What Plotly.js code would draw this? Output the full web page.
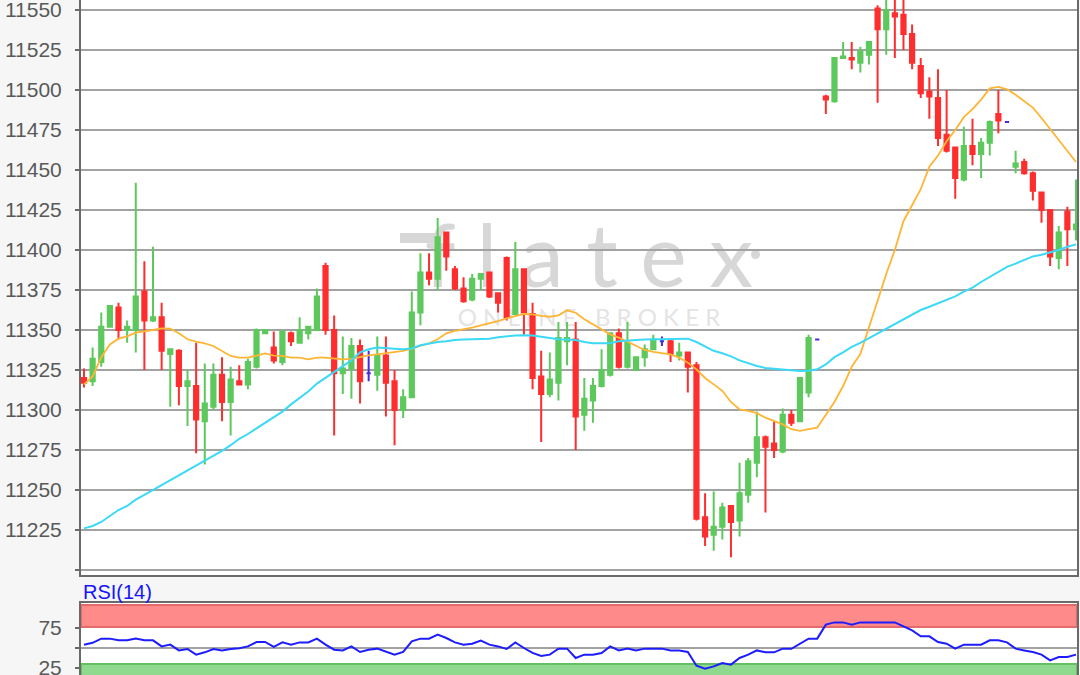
<!DOCTYPE html>
<html>
<head>
<meta charset="utf-8">
<script src="https://cdn.plot.ly/plotly-3.0.1.min.js"></script>
<style>
html,body{margin:0;padding:0;background:#f6f6f6;}
#chart{width:1080px;height:675px;}
</style>
</head>
<body>
<div id="chart"></div>
<script>
// ---------------- DATA ----------------
const openP  = [11320,11318,11330,11352,11364,11350,11350,11374,11356,11358,11335,11337,11315,11315,11293,11302,11322,11305,11318,11316,
                11327,11348,11339,11330,11348,11342,11348,11350,11390,11350,11323,11326,11340,11323,11322,11334,11318,11300,11308,11361,
                11386,11382,11411,11388,11376,11369,11382,11386,11373,11395,11360,11388,11360,11321,11310,11317,11343,11344,11297,11306,
                11315,11322,11348,11327,11325,11333,11338,11343,11343,11334,11336,11328,11233,11222,11227,11240,11231,11247,11267,11283,
                11279,11274,11297,11293,11311,11344,11496,11493,11520,11520,11517,11522,11551,11538,11548,11547,11535,11515,11499,11495,
                11472,11464,11444,11465,11460,11467,11485,11480,11452,11455,11448,11436,11425,11395,11424,11413];
const highP  = [11326,11339,11361,11365,11367,11356,11442,11393,11402,11367,11338,11338,11325,11342,11329,11329,11333,11327,11328,11332,
                11351,11350,11349,11349,11349,11358,11352,11376,11392,11359,11346,11345,11344,11337,11346,11346,11325,11313,11374,11398,
                11398,11420,11411,11390,11383,11385,11385,11386,11373,11396,11405,11388,11367,11337,11336,11355,11355,11355,11320,11320,
                11338,11348,11351,11355,11333,11341,11347,11346,11344,11342,11336,11330,11248,11249,11242,11240,11267,11270,11299,11284,
                11293,11301,11300,11320,11347,11344,11497,11520,11530,11530,11527,11530,11553,11560,11560,11560,11541,11520,11508,11513,
                11500,11464,11477,11482,11470,11481,11500,11480,11462,11457,11449,11436,11425,11415,11427,11444];
const lowP   = [11314,11315,11327,11352,11344,11342,11336,11325,11355,11325,11302,11303,11290,11273,11266,11300,11293,11284,11316,11313,
                11326,11348,11329,11328,11340,11342,11344,11350,11347,11284,11310,11307,11304,11318,11312,11296,11278,11295,11308,11353,
                11378,11375,11387,11375,11367,11368,11375,11370,11361,11356,11360,11347,11313,11280,11308,11306,11328,11275,11287,11292,
                11314,11321,11326,11326,11325,11327,11338,11340,11330,11331,11311,11231,11215,11212,11219,11208,11221,11242,11258,11236,
                11270,11273,11290,11293,11308,11344,11485,11492,11520,11513,11511,11516,11492,11522,11520,11525,11513,11495,11482,11465,
                11461,11432,11443,11453,11445,11459,11473,11480,11448,11447,11431,11417,11390,11388,11390,11406];
const closeP = [11317,11332,11352,11365,11350,11352,11371,11356,11358,11337,11338,11315,11318,11294,11304,11322,11305,11319,11316,11330,
                11350,11350,11331,11349,11343,11350,11352,11371,11350,11323,11326,11340,11318,11323,11334,11317,11300,11308,11361,11386,
                11382,11408,11396,11376,11368,11382,11385,11371,11367,11358,11388,11361,11320,11310,11319,11345,11345,11296,11307,11315,
                11325,11348,11327,11342,11333,11338,11344,11343,11335,11336,11327,11232,11221,11227,11239,11230,11248,11268,11283,11277,
                11275,11297,11292,11320,11345,11344,11494,11520,11521,11519,11524,11530,11538,11550,11546,11535,11517,11498,11496,11470,
                11462,11445,11465,11460,11467,11480,11481,11480,11454,11448,11437,11425,11396,11411,11413,11416];

// moving averages (orange = fast, cyan = slow), read per candle
const maFast = [11316,11321,11333,11341,11344.6,11346,11348.3,11349,11350,11351,11350.8,11348,11344.2,11342.7,11341.7,11340,11336.9,11333.8,11332.7,11332.7,
                11334,11335.4,11334,11333.8,11332.7,11332.7,11331.7,11332.7,11332.7,11332,11331.7,11332,11333.3,11334.2,11334.8,11335.4,11336.3,11336.9,11338.3,11340,
                11341.7,11344.2,11347.9,11349.4,11350.4,11351.5,11352.9,11354.2,11355.6,11357.3,11358.8,11360,11359.8,11358.8,11358.3,11359.2,11362.3,11360.8,11356.7,11353.5,
                11350,11347.3,11345.2,11342.5,11340,11337.5,11336.3,11335.4,11334.8,11332.7,11329.6,11325.4,11320,11316,11312,11305,11300.4,11299.4,11298,11295.2,
                11293,11291,11288,11287,11288,11289,11297,11305,11315,11327,11335,11352,11368,11385,11400,11418,11428,11438,11452,11459,
                11468,11475,11483,11488,11494,11501,11502,11500.4,11497,11493,11489,11482.5,11475.7,11469,11462,11455];
const maSlow = [11226,11227.5,11230,11233.8,11237.5,11240,11244,11247,11250,11253,11256.5,11259,11262,11265.5,11268.5,11271,11274.5,11278,11282,11285,
                11288.5,11292,11295,11299,11303.5,11307.5,11311.5,11316.5,11320,11324,11327.5,11331,11336,11338,11339,11338.5,11338.3,11338,11338.5,11340.5,
                11341.5,11342.5,11343,11343.8,11344,11344.2,11344.4,11344.6,11345.5,11346.2,11346.5,11346.7,11346.5,11345.8,11345,11344.2,11344,11343.8,11342.5,11341.7,
                11341.7,11341.7,11343,11343.5,11343.8,11344,11344.2,11344.2,11344.2,11344.4,11344.6,11342.5,11339.5,11337,11335.5,11333.5,11331,11329,11327.5,11326.3,
                11325.8,11325.5,11324.8,11324.4,11324.6,11325.4,11328.5,11333,11336,11339.5,11342,11345,11348,11351,11354,11357,11360,11362.5,11364.5,11366.5,
                11369,11371,11374,11376.5,11380,11383,11386,11389.5,11391.5,11393.5,11396,11397,11398.5,11400,11402,11403.5];

// RSI(14), read per candle
const rsi14 = [54,56.5,61.7,61.7,59.6,59.6,61.7,59.6,59.6,52,54.2,47,48.8,41.7,44.6,48.8,47,48.8,49.6,52,
               57.5,57.5,51.3,57,54.2,57,57,61.7,54.2,47.9,47,52,45,47.9,49.2,45,41.7,45,58.3,61.7,
               61.7,66.7,62.5,57,54.2,55.4,59.2,54.2,52,48.8,57,50,43.8,40,41.7,49.2,49.2,37.5,41.7,41.7,
               43.8,52,47,49.2,47,49.2,49.2,49.2,47,47,45,27.9,24.2,27,31.3,29.2,37.5,41.7,47,44.6,
               44.6,49.2,49,55.4,61.7,61.7,79.2,82,82,79.2,82,82,82,82,82,77,72,64.6,64.6,57.5,
               55.4,49.2,54.2,54.2,54.2,59.6,59.6,57,49.2,47,45,41.7,34.6,38.8,38.8,41.7];

// tick labels
const priceTickVals = [11200,11225,11250,11275,11300,11325,11350,11375,11400,11425,11450,11475,11500,11525,11550];
const priceTickText = ['','11225','11250','11275','11300','11325','11350','11375','11400','11425','11450','11475','11500','11525','11550'];
const rsiTickVals = [25,50,75];
const rsiTickText = ['25','','75'];
const rsiLabel = 'RSI(14)';
const watermarkTop = 'f l a t e x';
const watermarkSub = 'O N L I N E   B R O K E R';

// ---------------- BUILD ----------------
const idx = openP.map((_, i) => i);
function subset(test) {
  const out = {x: [], open: [], high: [], low: [], close: []};
  idx.forEach(i => {
    if (test(openP[i], closeP[i])) {
      out.x.push(i); out.open.push(openP[i]); out.high.push(highP[i]);
      out.low.push(lowP[i]); out.close.push(closeP[i]);
    }
  });
  return out;
}
const GREEN = '#5dc95d', RED = '#ff2e2e', DOJI = '#4a2ad8';
function candle(set, col) {
  return Object.assign({
    type: 'candlestick', xaxis: 'x', yaxis: 'y', whiskerwidth: 0,
    increasing: {line: {color: col, width: 2}, fillcolor: col},
    decreasing: {line: {color: col, width: 2}, fillcolor: col},
    hoverinfo: 'skip', showlegend: false
  }, set);
}
const traces = [
  candle(subset((o, c) => c > o), GREEN),
  candle(subset((o, c) => c < o), RED),
  candle(subset((o, c) => c === o), DOJI),
  {type: 'scatter', mode: 'lines', x: idx, y: maFast, xaxis: 'x', yaxis: 'y',
   line: {color: '#ffb534', width: 1.8}, hoverinfo: 'skip', showlegend: false},
  {type: 'scatter', mode: 'lines', x: idx, y: maSlow, xaxis: 'x', yaxis: 'y',
   line: {color: '#3cd9f7', width: 2}, hoverinfo: 'skip', showlegend: false},
  {type: 'scatter', mode: 'lines', x: idx, y: rsi14, xaxis: 'x2', yaxis: 'y2',
   line: {color: '#1c1cff', width: 2}, hoverinfo: 'skip', showlegend: false}
];

const AXC = '#6a6a6a', GRID = '#a2a2a2';
const FONT = 'Liberation Sans, Arial, sans-serif';
const xr = [-0.348, 115.116];
const layout = {
  width: 1080, height: 675,
  margin: {l: 81, r: 3, t: 0, b: 0, pad: 0},
  paper_bgcolor: '#f6f6f6', plot_bgcolor: '#ffffff',
  showlegend: false,
  boxgap: 0.3, boxgroupgap: 0.3,
  xaxis: {domain: [0, 1], anchor: 'y', range: xr, showgrid: false, zeroline: false,
          showticklabels: false, ticks: '', showline: true, linecolor: AXC, linewidth: 2,
          rangeslider: {visible: false}, fixedrange: true},
  yaxis: {domain: [1 - 575 / 675, 1], anchor: 'x', range: [11196.875, 11556.25],
          tickmode: 'array', tickvals: priceTickVals, ticktext: priceTickText,
          showgrid: true, gridcolor: GRID, gridwidth: 2, zeroline: false,
          showline: true, mirror: true, linecolor: AXC, linewidth: 2,
          ticks: 'outside', ticklen: 4, tickwidth: 2, tickcolor: AXC,
          tickfont: {family: FONT, size: 21, color: '#595959'}, ticklabelstandoff: 9,
          ticklabeloverflow: 'allow', fixedrange: true},
  xaxis2: {domain: [0, 1], anchor: 'y2', range: xr, showgrid: false, zeroline: false,
           showticklabels: false, ticks: '', side: 'top', showline: true,
           linecolor: AXC, linewidth: 2, fixedrange: true},
  yaxis2: {domain: [0, 72 / 675], anchor: 'x2', range: [16.25, 106.25],
           tickmode: 'array', tickvals: rsiTickVals, ticktext: rsiTickText,
           showgrid: false, zeroline: false, showline: true, mirror: true,
           linecolor: AXC, linewidth: 2, ticks: 'outside', ticklen: 4, tickwidth: 2, tickcolor: AXC,
           tickfont: {family: FONT, size: 21, color: '#595959'}, ticklabelstandoff: 9,
           ticklabeloverflow: 'allow', fixedrange: true},
  shapes: [
    // RSI overbought / oversold bands and mid line
    {type: 'rect', xref: 'x2 domain', yref: 'y2', x0: 0, x1: 1, y0: 76.25, y1: 103.75,
     fillcolor: '#ff8a8a', line: {color: '#e56a6a', width: 2}, layer: 'below'},
    {type: 'rect', xref: 'x2 domain', yref: 'y2', x0: 0, x1: 1, y0: 5, y1: 30,
     fillcolor: '#8fd98f', line: {color: '#63c163', width: 2}, layer: 'below'},
    {type: 'line', xref: 'x2 domain', yref: 'y2', x0: 0, x1: 1, y0: 50, y1: 50,
     line: {color: GRID, width: 2}, layer: 'below'},
    // watermark
    {type: 'rect', xref: 'paper', yref: 'paper', x0: 0.33, x1: 0.69, y0: 0.567, y1: 0.686,
     fillcolor: 'rgba(0,0,0,0)', line: {width: 0}, layer: 'below',
     label: {text: watermarkTop, textposition: 'middle center',
             font: {family: 'Lato, DejaVu Sans, sans-serif', size: 88, color: '#d7d7d7'}}},
    {type: 'rect', xref: 'paper', yref: 'paper', x0: 0.33, x1: 0.69, y0: 0.5156, y1: 0.548,
     fillcolor: 'rgba(0,0,0,0)', line: {width: 0}, layer: 'below',
     label: {text: watermarkSub, textposition: 'middle center',
             font: {family: 'Lato, DejaVu Sans, sans-serif', size: 24, color: '#e4e4e4'}}},
    {type: 'line', xref: 'paper', yref: 'paper', x0: (400 - 81) / 996, x1: (440 - 81) / 996,
     y0: (675 - 238) / 675, y1: (675 - 238) / 675, line: {color: '#d7d7d7', width: 10}, layer: 'below'},
    {type: 'circle', xref: 'paper', yref: 'paper', x0: (751 - 81) / 996, x1: (760 - 81) / 996,
     y0: (675 - 259) / 675, y1: (675 - 250) / 675, fillcolor: '#d7d7d7', line: {width: 0}, layer: 'below'}
  ],
  annotations: [
    {text: rsiLabel, xref: 'paper', yref: 'paper', x: 0, y: (675 - 592) / 675,
     xanchor: 'left', yanchor: 'middle', showarrow: false, xshift: 0,
     font: {family: FONT, size: 20, color: '#1414ff'}}
  ]
};

Plotly.newPlot('chart', traces, layout, {displayModeBar: false, staticPlot: true});
</script>
</body>
</html>
